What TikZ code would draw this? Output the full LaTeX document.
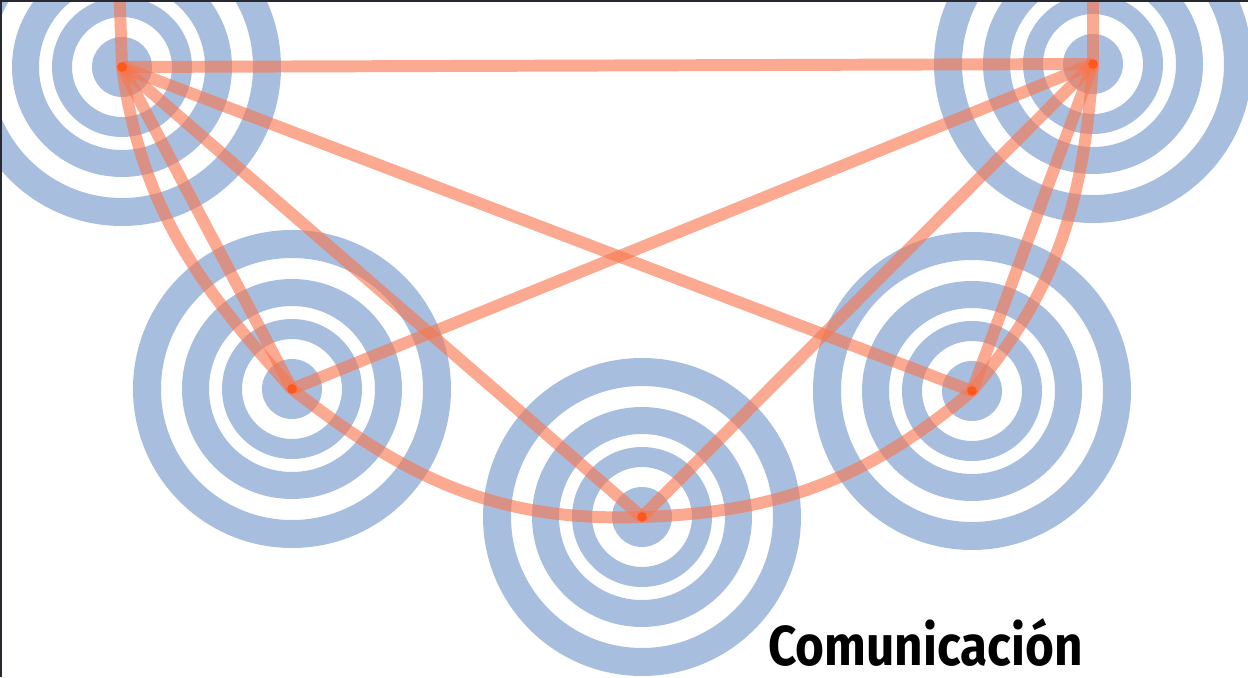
\documentclass[tikz,border=0pt]{standalone}
\usepackage{fontspec}
\newfontfamily\labelfont{Fira Sans}
\usetikzlibrary{positioning}
\definecolor{ringblue}{RGB}{168,190,223}
\definecolor{linkorange}{RGB}{248,118,78}
\definecolor{hubred}{RGB}{255,88,30}
\definecolor{edgegray}{RGB}{40,40,48}

\begin{document}
\begin{tikzpicture}[
    x=0.02cm, y=0.02cm,
    rings/.style={fill=ringblue, even odd rule},
    link/.style={draw=linkorange, line width=6.8pt, draw opacity=0.62, line join=round},
    hub/.style={circle, fill=hubred, inner sep=0pt, minimum size=5.6pt},
    title/.style={font=\labelfont\bfseries\fontsize{32}{36}\selectfont, anchor=base west, inner sep=0pt},
  ]
    \useasboundingbox (0,0) rectangle (1248,677);
    \clip (0,0) rectangle (1248,677);

    \coordinate (tl) at (122,610);
    \coordinate (tr) at (1093,613);
    \coordinate (ml) at (292,288);
    \coordinate (bc) at (642,160);
    \coordinate (mr) at (972,286);
    \coordinate (tltop) at (119,700);
    \coordinate (trtop) at (1093,700);

    \foreach \c in {tl,tr,ml,bc,mr}
      \fill[rings] (\c) circle[radius=159] circle[radius=131] circle[radius=110]
        circle[radius=83] circle[radius=70] circle[radius=50] circle[radius=30];

    \draw[link] (tl) -- (tr);
    \draw[link] (tl) -- (ml);
    \draw[link] (tl) -- (bc);
    \draw[link] (tl) -- (mr);
    \draw[link] (tr) -- (ml);
    \draw[link] (tr) -- (bc);
    \draw[link] (tr) -- (mr);
    \draw[link] (tltop) -- (tl) to[out=-82, in=132] (ml) to[out=-38, in=182] (bc)
      to[out=2, in=-140] (mr) to[out=50, in=-94] (tr) -- (trtop);

    \foreach \c in {tl,tr,ml,bc,mr}
      \node[hub] (\c hub) at (\c) {};

    \node[title] (title) at (768,12) {\scalebox{0.88}[1]{Comunicación}};

    \draw[edgegray, line width=2.4pt] (0,0) -- (0,677) -- (1248,677);
\end{tikzpicture}
\end{document}
